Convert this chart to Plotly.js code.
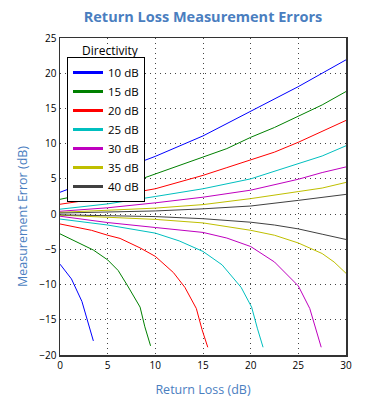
<!DOCTYPE html>
<html>
<head>
<meta charset="utf-8">
<script src="https://cdn.plot.ly/plotly-3.0.1.min.js"></script>
<style>html,body{margin:0;padding:0;background:#fff;}#chart{width:391px;height:400px;}</style>
</head>
<body>
<div id="chart"></div>
<script>
// Directivity values (dB) and legend labels
const directivity = [10, 15, 20, 25, 30, 35, 40];
const legendLabels = ['10 dB', '15 dB', '20 dB', '25 dB', '30 dB', '35 dB', '40 dB'];

// Upper error curves (Return Loss dB -> Measurement Error dB)
const up10x = [0, 5, 10, 15, 20, 25, 27.5, 30];
const up10y = [3.1, 5.6, 8.2, 11.1, 14.6, 18.1, 20.0, 21.9];
const up15x = [0, 2.5, 5, 7.5, 10, 12.5, 15, 17.5, 20, 22.5, 25, 27.5, 30];
const up15y = [2.1, 2.75, 3.5, 4.5, 5.7, 6.8, 8.0, 9.3, 10.9, 12.3, 13.9, 15.5, 17.4];
const up20x = [0, 5, 10, 15, 17.5, 20, 22.5, 25, 27.5, 30];
const up20y = [1.4, 2.4, 3.6, 5.5, 6.6, 7.7, 8.8, 10.2, 11.7, 13.3];
const up25x = [0, 5, 10, 15, 20, 22.5, 25, 27.5, 30];
const up25y = [0.7, 1.45, 2.5, 3.6, 5.0, 6.1, 7.25, 8.25, 9.7];
const up30x = [0, 5, 10, 15, 20, 22.5, 25, 27.5, 30];
const up30y = [0.4, 0.9, 1.6, 2.4, 3.4, 4.2, 4.95, 5.9, 6.7];
const up35x = [0, 5, 10, 15, 20, 25, 27.5, 30];
const up35y = [0.25, 0.55, 0.85, 1.35, 2.2, 3.2, 3.7, 4.5];
const up40x = [0, 5, 10, 15, 20, 25, 27.5, 30];
const up40y = [0.15, 0.25, 0.45, 0.75, 1.15, 1.95, 2.4, 2.8];

// Lower error curves
const lo10x = [0, 1.2, 2.3, 2.8, 3.5];
const lo10y = [-7.1, -9.2, -12.4, -14.6, -18.0];
const lo15x = [0, 3.5, 5, 6.1, 7.1, 8.4, 8.9, 9.5];
const lo15y = [-2.8, -5.1, -6.5, -8.0, -10.2, -13.2, -16.0, -18.7];
const lo20x = [0, 3.3, 5, 6.3, 8.4, 10, 11.9, 13.1, 14.3, 14.9, 15.5];
const lo20y = [-1.4, -2.3, -3.0, -3.45, -4.8, -6.0, -8.3, -10.4, -13.4, -16.4, -18.9];
const lo25x = [0, 5, 10, 12.5, 15, 17, 19, 20.1, 20.7, 21.3];
const lo25y = [-0.7, -1.55, -2.7, -3.8, -5.3, -7.2, -10.4, -13.2, -16.2, -18.9];
const lo30x = [0, 5, 10, 15, 17.5, 19, 20, 22.5, 25, 26.2, 26.8, 27.4];
const lo30y = [-0.3, -1.2, -1.9, -2.6, -3.4, -4.1, -4.6, -6.8, -10.2, -13.4, -16.2, -18.9];
const lo35x = [0, 5, 10, 15, 20, 22.5, 25, 27.5, 28.75, 30];
const lo35y = [-0.15, -0.45, -0.75, -1.25, -2.3, -3.0, -4.1, -5.6, -6.8, -8.4];
const lo40x = [0, 5, 10, 15, 20, 22.5, 25, 27.5, 30];
const lo40y = [-0.1, -0.2, -0.35, -0.65, -1.15, -1.55, -2.1, -2.85, -3.6];

const upX = [up10x, up15x, up20x, up25x, up30x, up35x, up40x];
const upY = [up10y, up15y, up20y, up25y, up30y, up35y, up40y];
const loX = [lo10x, lo15x, lo20x, lo25x, lo30x, lo35x, lo40x];
const loY = [lo10y, lo15y, lo20y, lo25y, lo30y, lo35y, lo40y];

const colors = ['#0000ff', '#008000', '#ff0000', '#00bfbf', '#bf00bf', '#bfbf00', '#404040'];

const traces = [];
directivity.forEach((d, i) => {
  traces.push({x: upX[i], y: upY[i], type: 'scatter', mode: 'lines',
    line: {color: colors[i], width: 1}, showlegend: false, hoverinfo: 'skip'});
  traces.push({x: loX[i], y: loY[i], type: 'scatter', mode: 'lines',
    line: {color: colors[i], width: 1}, showlegend: false, hoverinfo: 'skip'});
});
// legend entries
directivity.forEach((d, i) => {
  traces.push({x: [null], y: [null], type: 'scatter', mode: 'lines', name: legendLabels[i],
    line: {color: colors[i], width: 3}, showlegend: true});
});

const blue = '#4a7ebf';
const fam = 'Open Sans, sans-serif';
const layout = {
  width: 391, height: 400,
  margin: {l: 60, r: 45, t: 38, b: 45},
  paper_bgcolor: '#fff', plot_bgcolor: '#fff',
  font: {family: fam, size: 10, color: '#000'},
  title: {text: 'Return Loss Measurement Errors', font: {family: fam, size: 14.5, color: blue, weight: 'bold'},
    x: 0.5, xref: 'paper', y: 1 - 17/400, yref: 'container', yanchor: 'middle'},
  xaxis: {range: [0, 30], dtick: 5, tick0: 0, showline: true, mirror: true, linecolor: '#333', linewidth: 1.5,
    showgrid: true, gridcolor: '#444', griddash: '1px,4px', gridwidth: 1, zeroline: false, ticks: '',
    tickfont: {family: fam, size: 10, color: '#000'},
    title: {text: 'Return Loss (dB)', font: {family: fam, size: 12.5, color: blue}, standoff: 14}},
  yaxis: {range: [-20, 25], dtick: 5, tick0: 0, showline: true, mirror: true, linecolor: '#333', linewidth: 1.5,
    showgrid: true, gridcolor: '#444', griddash: '1px,4px', gridwidth: 1, zeroline: false, ticks: '',
    tickfont: {family: fam, size: 10, color: '#000'}},
  legend: {x: 0.0245, y: 0.94, xanchor: 'left', yanchor: 'top', bgcolor: '#fff',
    bordercolor: '#000', borderwidth: 1, entrywidth: 48, entrywidthmode: 'pixels',
    font: {family: fam, size: 11.5, color: '#000'}},
  annotations: [
    {text: 'Directivity', xref: 'paper', yref: 'paper', x: 0.175, y: (355 - 50) / 317,
      xanchor: 'center', yanchor: 'middle', showarrow: false, font: {family: fam, size: 12, color: '#000'}},
    {text: 'Measurement Error (dB)', xref: 'paper', yref: 'paper', x: (22 - 60) / 286, y: (355 - 217) / 317,
      xanchor: 'center', yanchor: 'middle', textangle: -90, showarrow: false,
      font: {family: fam, size: 12.5, color: blue}}
  ]
};

Plotly.newPlot('chart', traces, layout, {displayModeBar: false, staticPlot: true});
</script>
</body>
</html>
